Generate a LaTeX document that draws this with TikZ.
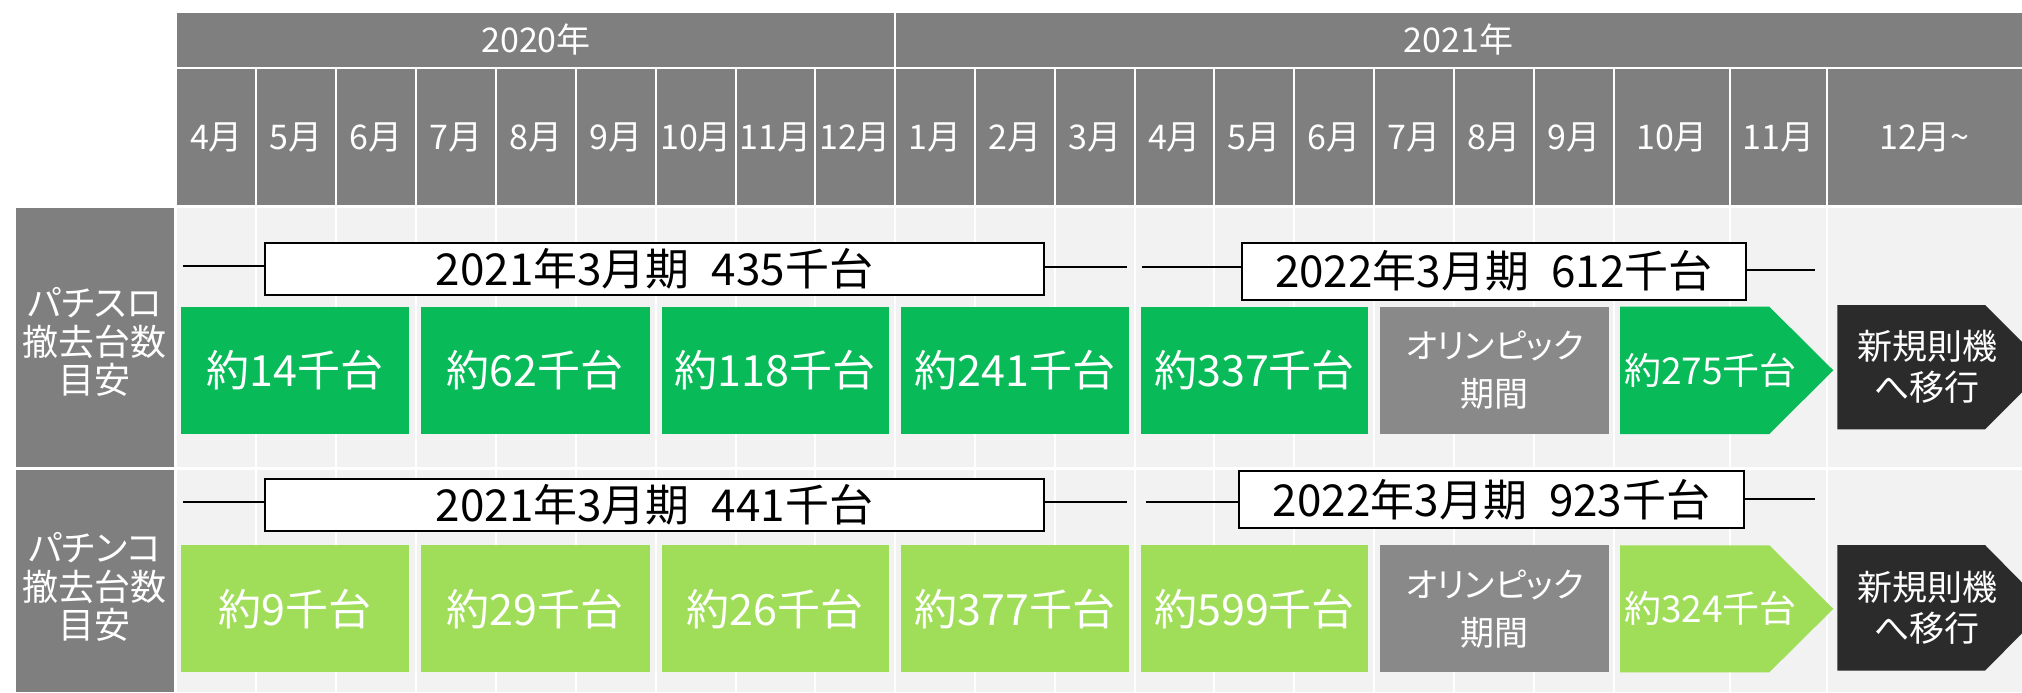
\documentclass[tikz,border=0pt]{standalone}
\usepackage{fontspec}
\setmainfont{Noto Sans CJK JP}[RawFeature={+palt}]
\definecolor{hdr}{HTML}{7F7F7F}
\definecolor{cellbg}{HTML}{F2F2F2}
\definecolor{grn}{HTML}{08BB58}
\definecolor{lgrn}{HTML}{A0DE5A}
\definecolor{oly}{HTML}{898989}
\definecolor{blk}{HTML}{2B2B2B}
\newcommand\rnode[7]{\node[#2, minimum width={(#5-#3)*0.5pt}, minimum height={(#6-#4)*0.5pt}] (#1) at ({(#3+#5)/2},{(#4+#6)/2}) {#7};}
\begin{document}
\begin{tikzpicture}[x=0.5pt,y=-0.5pt,
  hdrtxt/.style={text=white, inner sep=0pt, font=\fontsize{17}{20}\selectfont},
  lbltxt/.style={text=white, inner sep=0pt, align=center, font=\fontsize{18}{19.4}\selectfont},
  gbox/.style={fill=grn, text=white, inner sep=0pt, font=\fontsize{21.5}{25}\selectfont},
  lbox/.style={fill=lgrn, text=white, inner sep=0pt, font=\fontsize{21.5}{25}\selectfont},
  olybox/.style={fill=oly, text=white, inner sep=0pt, align=center, font=\fontsize{17}{24}\selectfont},
  arrtxt/.style={text=white, inner sep=0pt, font=\fontsize{18.5}{20}\selectfont},
  blktxt/.style={text=white, inner sep=0pt, align=center, font=\fontsize{17.5}{20.5}\selectfont},
  brkbox/.style={draw=black, line width=1pt, fill=white, text=black, inner sep=0pt, font=\fontsize{22}{25}\selectfont},
  brk/.style={draw=black, line width=1pt},
  gridline/.style={draw=white, line width=1.3pt}]
\useasboundingbox (0,0) rectangle (2022,692);
\clip (0,0) rectangle (2022,692);
\fill[white] (0,0) rectangle (2022,692);
% header
\fill[hdr] (177,12.7) rectangle (2022,66.7);
\fill[hdr] (177,69.3) rectangle (2022,205);
% row backgrounds
\fill[cellbg] (177,207.7) rectangle (2022,466.7);
\fill[cellbg] (177,470) rectangle (2022,692);
% grid lines
\foreach \x in {256,336,416,496,576,656,736,815,895,975,1055,1135,1214,1294,1374,1454,1534,1614,1730,1827}
  \draw[gridline] (\x,69.3) -- (\x,692);
\draw[gridline] (895,12.7) -- (895,66.7);
% year labels
\node[hdrtxt] (y2020) at (536,39.7) {2020年};
\node[hdrtxt] (y2021) at (1458.5,39.7) {2021年};
% month labels
\foreach \x/\t [count=\i] in {216.5/4月,296/5月,376/6月,456/7月,536/8月,616/9月,696/10月,775.5/11月,855/12月,935/1月,1015/2月,1095/3月,1174.5/4月,1254/5月,1334/6月,1414/7月,1494/8月,1574/9月,1672/10月,1778.5/11月,1924.5/12月{\char"7E}}
  \node[hdrtxt] (m\i) at (\x,137) {\t};
% left labels
\fill[hdr] (15.6,207.7) rectangle (174,466.7);
\fill[hdr] (15.6,470) rectangle (174,692);
\node[lbltxt] (lab1) at (94.8,342) {パチスロ\\撤去台数\\目安};
\node[lbltxt] (lab2) at (94.8,587) {パチンコ\\撤去台数\\目安};
% row 1 boxes
\rnode{r1a}{gbox}{181}{306.7}{409}{434}{約14千台}
\rnode{r1b}{gbox}{420.7}{306.7}{649.5}{434}{約62千台}
\rnode{r1c}{gbox}{661.5}{306.7}{889}{434}{約118千台}
\rnode{r1d}{gbox}{901}{306.7}{1128.5}{434}{約241千台}
\rnode{r1e}{gbox}{1141}{306.7}{1368.3}{434}{約337千台}
\rnode{r1o}{olybox}{1380.4}{306.7}{1609}{434}{オリンピック\\期間}
\fill[grn] (1620,306.7) -- (1769.3,306.7) -- (1833.3,370.3) -- (1769.3,434) -- (1620,434) -- cycle;
\node[arrtxt] (r1f) at (1710.5,370.3) {約275千台};
\fill[blk] (1837.3,305) -- (1985,305) -- (2047.2,367.2) -- (1985,429.3) -- (1837.3,429.3) -- cycle;
\node[blktxt] (r1g) at (1927,367.2) {新規則機\\へ移行};
% row 2 boxes
\rnode{r2a}{lbox}{181}{545.3}{409}{672.3}{約9千台}
\rnode{r2b}{lbox}{420.7}{545.3}{649.5}{672.3}{約29千台}
\rnode{r2c}{lbox}{661.5}{545.3}{889}{672.3}{約26千台}
\rnode{r2d}{lbox}{901}{545.3}{1128.5}{672.3}{約377千台}
\rnode{r2e}{lbox}{1141}{545.3}{1368.3}{672.3}{約599千台}
\rnode{r2o}{olybox}{1380.4}{545.3}{1609}{672.3}{オリンピック\\期間}
\fill[lgrn] (1620,545.3) -- (1769.3,545.3) -- (1833.3,608.8) -- (1769.3,672.3) -- (1620,672.3) -- cycle;
\node[arrtxt] (r2f) at (1710.5,608.8) {約324千台};
\fill[blk] (1837.3,545) -- (1985,545) -- (2047,607.9) -- (1985,670.7) -- (1837.3,670.7) -- cycle;
\node[blktxt] (r2g) at (1927,607.9) {新規則機\\へ移行};
% bracket boxes row 1
\rnode{A1}{brkbox}{265}{242.7}{1044}{295}{2021年3月期\hspace{0.5em}435千台}
\rnode{B1}{brkbox}{1241.6}{242.5}{1746}{300}{2022年3月期\hspace{0.5em}612千台}
\coordinate (l1s) at (183.3,266);
\coordinate (l1m) at (1127,267);
\coordinate (l1n) at (1142,267);
\coordinate (l1e) at (1815,270);
\draw[brk] (l1s) -- (l1s -| A1.west);
\draw[brk] (A1.east |- l1m) -- (l1m);
\draw[brk] (l1n) -- (l1n -| B1.west);
\draw[brk] (B1.east |- l1e) -- (l1e);
% bracket boxes row 2
\rnode{A2}{brkbox}{265}{478.5}{1044}{530.7}{2021年3月期\hspace{0.5em}441千台}
\rnode{B2}{brkbox}{1239.3}{470.7}{1744}{528.3}{2022年3月期\hspace{0.5em}923千台}
\coordinate (l2s) at (183.3,501.7);
\coordinate (l2m) at (1126.7,501.7);
\coordinate (l2n) at (1146,501.7);
\coordinate (l2e) at (1815,499.3);
\draw[brk] (l2s) -- (l2s -| A2.west);
\draw[brk] (A2.east |- l2m) -- (l2m);
\draw[brk] (l2n) -- (l2n -| B2.west);
\draw[brk] (B2.east |- l2e) -- (l2e);
\end{tikzpicture}
\end{document}
